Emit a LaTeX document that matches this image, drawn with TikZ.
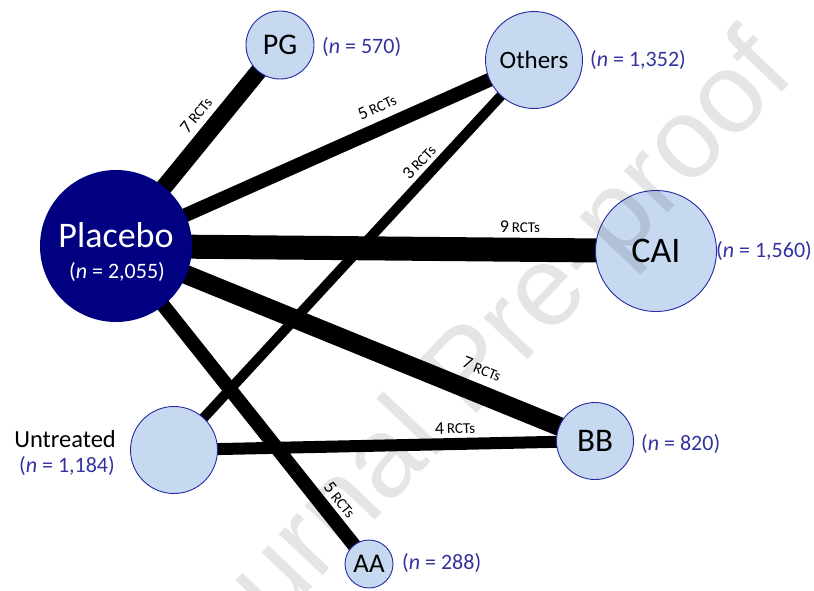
\documentclass[tikz,border=0pt]{standalone}
\usepackage{fontspec}
\setmainfont{Carlito}
\newfontfamily\wmfont{Liberation Sans}
\usetikzlibrary{backgrounds}
\definecolor{navy}{RGB}{0,0,128}
\definecolor{lightblue}{RGB}{198,217,241}
\definecolor{rim}{RGB}{40,40,160}
\definecolor{ntext}{RGB}{51,51,160}
\newcommand\rctlab[1]{{\fontsize{18}{19}\selectfont #1}\hspace{0.28em}{\fontsize{15}{16}\selectfont RCTs}}
\begin{document}
\begin{tikzpicture}[x=1pt,y=-1pt,
  trt/.style={circle, fill=lightblue, draw=rim, line width=0.9pt, inner sep=0pt, text=black},
  link/.style={draw=black, line cap=butt},
  nlab/.style={text=ntext, font=\fontsize{22}{26}\selectfont, inner sep=0pt},
  rct/.style={inner sep=0pt}
]
\useasboundingbox (0,0) rectangle (814,590);
% nodes
\node[circle, fill=navy, inner sep=0pt, minimum size=152pt] (Placebo) at (116,246) {};
\node[trt, minimum size=68pt, font=\fontsize{30}{31}\selectfont] (PG) at (280,45) {PG};
\node[trt, minimum size=97pt, font=\fontsize{25}{26}\selectfont] (Others) at (534,60) {Others};
\node[trt, minimum size=121pt, font=\fontsize{36}{38}\selectfont] (CAI) at (656,251) {CAI};
\node[trt, minimum size=77pt, font=\fontsize{33}{34}\selectfont] (BB) at (595,441) {BB};
\node[trt, minimum size=87pt] (Untr) at (174,450) {};
\node[trt, minimum size=48pt, font=\fontsize{27}{28}\selectfont] (AA) at (369,564) {AA};
% placebo text
\node[text=white, inner sep=0pt, anchor=base, font=\fontsize{36}{38}\selectfont] (plt) at (116,247) {Placebo};
\node[text=white, inner sep=0pt, anchor=base, font=\fontsize{22}{26}\selectfont] (pln) at (117,278) {(\textit{n} = 2,055)};
% edges
\begin{scope}[on background layer]
\draw[link, line width=17pt] (Placebo.center) -- (PG.center);
\draw[link, line width=14pt] (Placebo.center) -- (Others.center);
\draw[link, line width=24pt] (Placebo.center) -- (CAI.center);
\draw[link, line width=19pt] (Placebo.center) -- (BB.center);
\draw[link, line width=14pt] (Placebo.center) -- (AA.center);
\draw[link, line width=10pt] (Others.center) -- (Untr.center);
\draw[link, line width=12pt] (Untr.center) -- (BB.center);
\end{scope}
% n labels
\node[nlab, anchor=base west] (nPG) at (322,53) {(\textit{n} = 570)};
\node[nlab, anchor=base west] (nOth) at (590,66) {(\textit{n} = 1,352)};
\node[nlab, anchor=base west] (nCAI) at (716,257) {(\textit{n} = 1,560)};
\node[nlab, anchor=base west] (nBB) at (641,450) {(\textit{n} = 820)};
\node[nlab, anchor=base west] (nAA) at (402,569) {(\textit{n} = 288)};
\node[inner sep=0pt, anchor=base east, font=\fontsize{24.5}{26}\selectfont] (utx) at (116,447) {Untreated};
\node[nlab, anchor=base east] (nUn) at (115,472) {(\textit{n} = 1,184)};
% RCT labels
\node[rct, rotate=51] (r1) at (196,115) {\rctlab{7}};
\node[rct, rotate=24.5] (r2) at (377,107) {\rctlab{5}};
\node[rct, rotate=47] (r3) at (419,162) {\rctlab{3}};
\node[rct] (r4) at (520,227) {\rctlab{9}};
\node[rct, rotate=-22] (r5) at (482,369) {\rctlab{7}};
\node[rct, rotate=1.5] (r6) at (455,428) {\rctlab{4}};
\node[rct, rotate=-51.5] (r7) at (340,500) {\rctlab{5}};
% watermark
\node[rotate=46.5, text=black, opacity=0.1, inner sep=0pt, font=\wmfont\fontsize{114}{120}\selectfont] (wm) at (473,375) {Journal Pre-proof};
\end{tikzpicture}
\end{document}
